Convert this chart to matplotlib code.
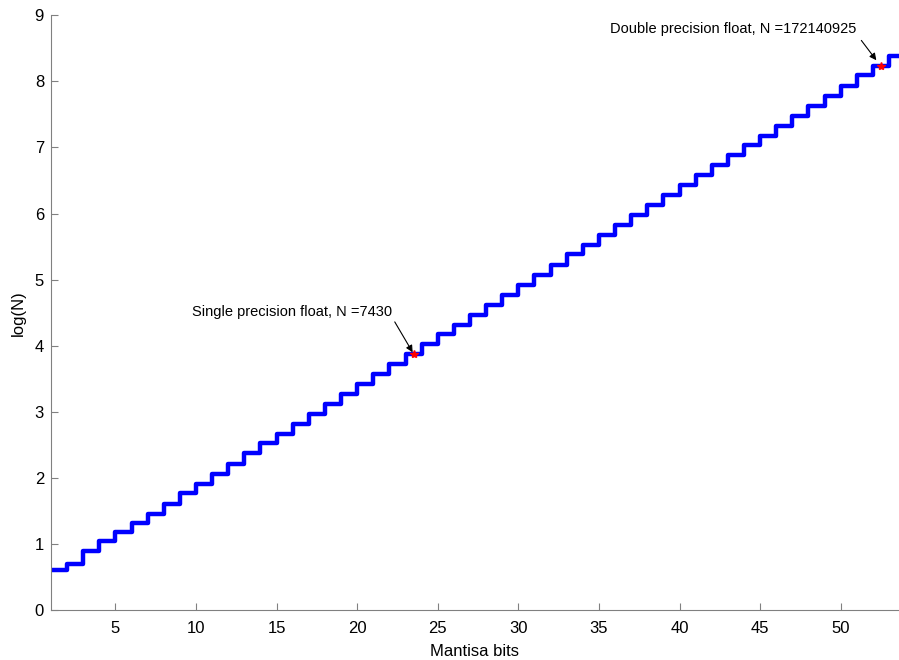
import matplotlib
matplotlib.use("Agg")
import matplotlib.pyplot as plt

bits = list(range(1, 54))
logN = [0.60, 0.70, 0.90, 1.04, 1.18, 1.32, 1.46, 1.61, 1.77, 1.91,
        2.06, 2.21, 2.37, 2.52, 2.67, 2.82, 2.97, 3.12, 3.27, 3.42,
        3.57, 3.72, 3.87, 4.02, 4.17, 4.32, 4.47, 4.62, 4.77, 4.92,
        5.07, 5.22, 5.38, 5.53, 5.68, 5.83, 5.98, 6.13, 6.28, 6.43,
        6.58, 6.73, 6.88, 7.03, 7.18, 7.33, 7.48, 7.63, 7.78, 7.93,
        8.09, 8.24, 8.39]

# single and double precision points
mark_x = [23.5, 52.5]
mark_y = [3.87, 8.24]
mark_txt = ["Single precision float, N =7430", "Double precision float, N =172140925"]
txt_pos = [(22.15, 4.51), (51.0, 8.80)]
arrow_tail = [(22.33, 4.36), (51.28, 8.62)]
arrow_head = [(23.44, 3.90), (52.21, 8.32)]

plt.rcParams['font.family'] = ['Liberation Sans', 'DejaVu Sans']

fig = plt.figure(figsize=(8.99, 6.60), dpi=100)
ax = fig.add_axes([0.0567, 0.0758, 0.943, 0.901])

# stairs: last level runs on to the axis edge
xs = bits + [bits[-1] + 1]
ys = logN + [logN[-1]]
ax.step(xs, ys, where="post", color="#0000ff", lw=3.2)
ax.plot(mark_x, mark_y, "*", color="red", ms=6, mec="red")

for i in range(2):
    ax.text(txt_pos[i][0], txt_pos[i][1], mark_txt[i], ha="right", va="center", fontsize=10.5)
    ax.annotate("", xy=arrow_head[i], xytext=arrow_tail[i],
                arrowprops=dict(arrowstyle="-|>", color="black", lw=0.8, shrinkA=0, shrinkB=0,
                                mutation_scale=10))

ax.set_xlim(1, 53.6)
ax.set_ylim(0, 9)
ax.set_xticks([5, 10, 15, 20, 25, 30, 35, 40, 45, 50])
ax.set_yticks(range(10))
ax.set_xlabel("Mantisa bits", fontsize=12, labelpad=6)
ax.set_ylabel("log(N)", fontsize=12, labelpad=6)

for s in ["top", "right"]:
    ax.spines[s].set_visible(False)
for s in ["left", "bottom"]:
    ax.spines[s].set_color("#808080")
ax.tick_params(direction="in", color="#808080", length=5, labelsize=12)
ax.tick_params(axis="x", pad=8)
ax.tick_params(axis="y", pad=5)

fig.savefig("out.png", dpi=100)
